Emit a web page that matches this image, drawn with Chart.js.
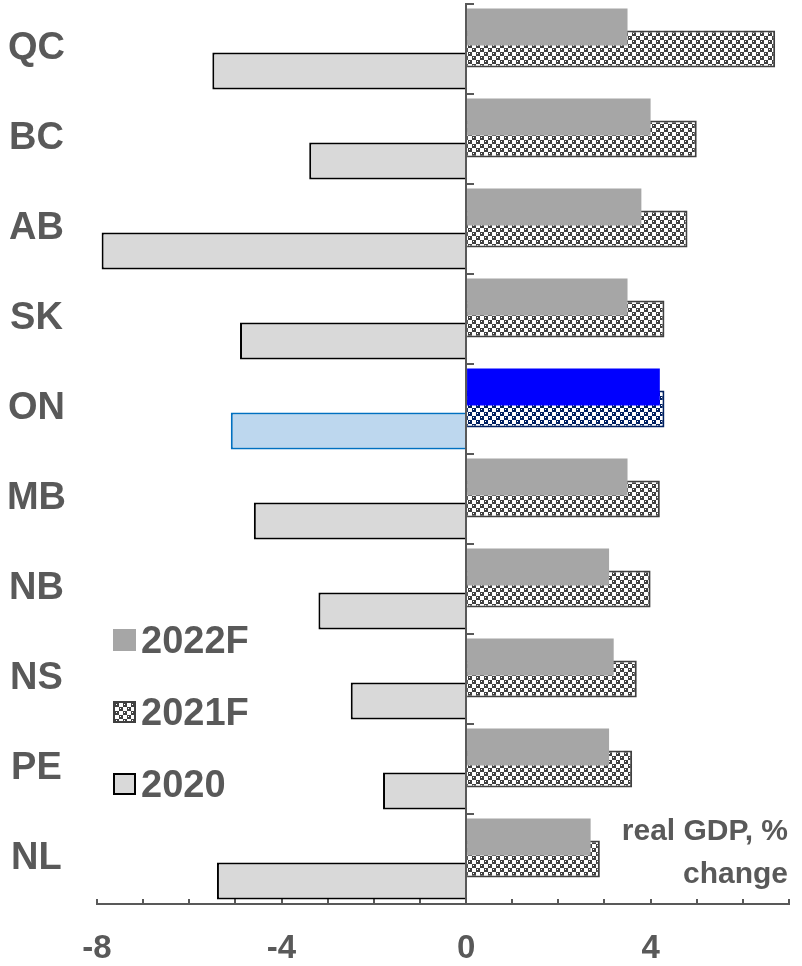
<!DOCTYPE html>
<html>
<head>
<meta charset="utf-8">
<script src="https://cdn.jsdelivr.net/npm/chart.js@4.4.1/dist/chart.umd.min.js"></script>
<style>
  body { margin: 0; background: #fff; }
  #wrap { position: relative; width: 802px; height: 966px; }
  #legend { position: absolute; left: 113px; top: 620px; font: bold 38px "Liberation Sans", Arial, sans-serif; color: #595959; }
  #legend .item { display: flex; align-items: center; height: 40px; margin-bottom: 32px; }
  #legend .box { width: 23px; height: 22px; box-sizing: border-box; margin-right: 5px; }
  #note { position: absolute; right: 14px; top: 808px; text-align: right; font: bold 30px "Liberation Sans", Arial, sans-serif; color: #595959; line-height: 43px; }
</style>
</head>
<body>
<div id="wrap">
  <canvas id="graph"></canvas>
  <div id="legend"></div>
  <div id="note">real GDP, %<br>change</div>
</div>
<script>
const provinces = ['QC', 'BC', 'AB', 'SK', 'ON', 'MB', 'NB', 'NS', 'PE', 'NL'];
const gdp2022 = [3.5, 4.0, 3.8, 3.5, 4.2, 3.5, 3.1, 3.2, 3.1, 2.7];
const gdp2021 = [6.7, 5.0, 4.8, 4.3, 4.3, 4.2, 4.0, 3.7, 3.6, 2.9];
const gdp2020 = [-5.5, -3.4, -7.9, -4.9, -5.1, -4.6, -3.2, -2.5, -1.8, -5.4];
const seriesNames = ['2022F', '2021F', '2020'];
const highlight = 'ON';

const textGray = '#595959';
const font = '"Liberation Sans", Arial, sans-serif';

// checkered fill used for the 2021F bars
function makeTile(color){
    const c = document.createElement('canvas');
    c.width = 8; c.height = 8;
    const t = c.getContext('2d');
    t.fillStyle = '#fff';
    t.fillRect(0, 0, 8, 8);
    t.fillStyle = color;
    t.fillRect(0, 0, 4, 4);
    t.fillRect(4, 4, 4, 4);
    t.fillStyle = '#fff';
    t.fillRect(1, 1, 1, 1);
    t.fillRect(5, 5, 1, 1);
    return c;
}
const grayTile = makeTile('#404040');
const navyTile = makeTile('#002060');

const $graph = document.querySelector('#graph').getContext('2d');
const grayPattern = $graph.createPattern(grayTile, 'repeat');
const navyPattern = $graph.createPattern(navyTile, 'repeat');

const pick = (on, off) => provinces.map(p => p === highlight ? on : off);

Chart.defaults.font.family = font;
Chart.defaults.font.weight = 'bold';
Chart.defaults.color = textGray;

const chart = new Chart($graph, {
    type: 'bar',
    data: {
        labels: provinces,
        datasets: [
            {
                label: seriesNames[0],
                data: gdp2022,
                backgroundColor: pick('#0000FF', '#A6A6A6'),
                borderWidth: 0
            },
            {
                label: seriesNames[1],
                data: gdp2021,
                backgroundColor: pick(navyPattern, grayPattern),
                borderColor: pick('#002060', '#404040'),
                borderWidth: 2
            },
            {
                label: seriesNames[2],
                data: gdp2020,
                backgroundColor: pick('#BDD7EE', '#D9D9D9'),
                borderColor: pick('#0070C0', '#000000'),
                borderWidth: 2
            }
        ]
    },
    options: {
        indexAxis: 'y',
        responsive: true,
        maintainAspectRatio: false,
        animation: false,
        categoryPercentage: 0.734,
        barPercentage: 1.68,
        layout: { padding: { left: 0, right: 13, top: 4, bottom: 0 } },
        plugins: {
            legend: { display: false },
            tooltip: { enabled: false }
        },
        scales: {
            x: {
                type: 'linear',
                min: -8,
                max: 7,
                grid: { drawOnChartArea: false, tickLength: -5, color: textGray, lineWidth: 2 },
                border: { color: textGray, width: 2 },
                ticks: {
                    stepSize: 1,
                    autoSkip: false,
                    maxRotation: 0,
                    padding: 33,
                    font: { size: 33, weight: 'bold', lineHeight: 1 },
                    callback: v => v % 4 === 0 ? v : ''
                },
                afterFit(s){
                    s.height = 62;
                    s.paddingLeft = 0;
                    s.paddingRight = 0;
                }
            },
            y: {
                grid: { display: false },
                border: { display: false },
                ticks: {
                    crossAlign: 'center',
                    padding: 23,
                    font: { size: 38, weight: 'bold' }
                },
                afterFit(s){
                    s.width = 97;
                    s.paddingTop = 0;
                    s.paddingBottom = 0;
                }
            },
            yTicks: {
                axis: 'y',
                type: 'category',
                position: { x: 0 },
                offset: true,
                grid: { offset: true, drawOnChartArea: false, tickLength: -9, color: textGray, lineWidth: 2 },
                border: { color: textGray, width: 2 },
                ticks: { display: false }
            }
        }
    }
});

// legend drawn as html next to the bars
const swatches = [
    'background:#A6A6A6;',
    'background:url(' + grayTile.toDataURL() + ');border:2px solid #404040;',
    'background:#D9D9D9;border:2px solid #000;'
];
document.querySelector('#legend').innerHTML = seriesNames.map((name, i) =>
    '<div class="item"><span class="box" style="' + swatches[i] + '"></span>' + name + '</div>'
).join('');
</script>
</body>
</html>
